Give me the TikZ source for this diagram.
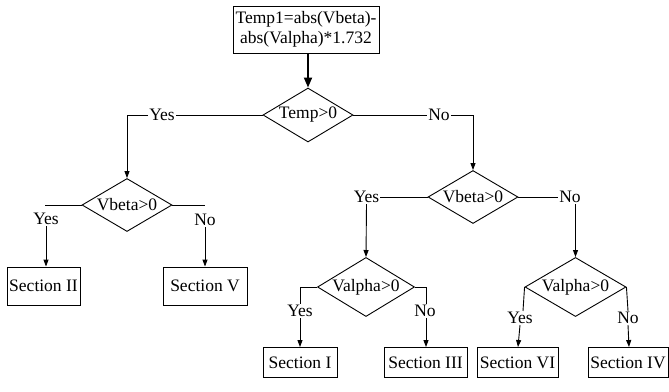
\documentclass[tikz,border=0pt]{standalone}
\usepackage{fontspec}
\setmainfont{Liberation Serif}
\usetikzlibrary{shapes.geometric,arrows.meta}
\begin{document}
\begin{tikzpicture}[x=1pt,y=-1pt,
  every node/.style={font=\fontsize{17.5}{20}\selectfont},
  line/.style={draw, line width=0.9pt},
  arr/.style={line, -{Triangle[length=7pt,width=5pt]}},
  bigarr/.style={draw, line width=1.8pt, -{Triangle[length=10pt,width=8pt]}},
  boxnode/.style={draw, line width=0.9pt, rectangle, inner sep=0pt, align=center},
  decision/.style={draw, line width=0.9pt, diamond, inner sep=-6pt},
  lbl/.style={inner sep=1pt}
]
\useasboundingbox (0,0) rectangle (669,391);
% top process
\node[boxnode, minimum width=146pt, minimum height=47pt] (top) at (306,29.5) {Temp1=abs(Vbeta)-\\abs(Valpha)*1.732};
% decisions
\node[decision, minimum width=90pt, minimum height=54pt] (t) at (308,115) {Temp>0};
\node[decision, minimum width=90pt, minimum height=53pt] (vb1) at (127,205) {Vbeta>0};
\node[decision, minimum width=90pt, minimum height=53pt] (vb2) at (473,197) {Vbeta>0};
\node[decision, minimum width=97pt, minimum height=53pt] (va1) at (366,287) {Valpha>0};
\node[decision, minimum width=101pt, minimum height=53pt] (va2) at (575.5,287) {Valpha>0};
% sections
\node[boxnode, minimum width=73pt, minimum height=38pt] (s2) at (43.5,286) {Section II};
\node[boxnode, minimum width=84pt, minimum height=38pt] (s5) at (205,286) {Section V};
\node[boxnode, minimum width=74pt, minimum height=30pt] (s1) at (300,362.5) {Section I};
\node[boxnode, minimum width=83pt, minimum height=30pt] (s3) at (425.5,362.5) {Section III};
\node[boxnode, minimum width=81pt, minimum height=30pt] (s6) at (517.5,362.5) {Section VI};
\node[boxnode, minimum width=80pt, minimum height=30pt] (s4) at (628,362.5) {Section IV};
% labels
\node[lbl] (yes1) at (162,115) {Yes};
\node[lbl] (no1) at (439,115) {No};
\node[lbl] (yes2) at (46,219) {Yes};
\node[lbl] (no2) at (205,220) {No};
\node[lbl] (yes3) at (366.5,197) {Yes};
\node[lbl] (no3) at (570,197) {No};
\node[lbl] (yes4) at (300,311) {Yes};
\node[lbl] (no4) at (425,311) {No};
\node[lbl] (yes5) at (520,318) {Yes};
\node[lbl] (no5) at (628,318) {No};
% corner coordinates
\coordinate (c1) at (127,115);
\coordinate (c1b) at (473,115);
\coordinate (c2) at (45,205);
\coordinate (c3) at (205,205);
\coordinate (c4) at (300,287);
\coordinate (c5) at (426,287);
% connectors
\draw[bigarr] (top.south -| t.north) -- (t.north);
\draw[line] (t.west) -- (yes1.east);
\draw[arr] (yes1.west) -- (c1) -- (vb1.north);
\draw[line] (t.east) -- (no1.west);
\draw[arr] (no1.east) -- (c1b) -- (vb2.north);
\draw[line] (vb1.west) -- (c2);
\draw[line] (vb1.east) -- (c3);
\draw[arr] (yes2.south) -- (s2.north -| yes2.south);
\draw[arr] (no2.south) -- (s5.north);
\draw[line] (vb2.west) -- (yes3.east);
\draw[line] (vb2.east) -- (no3.west);
\draw[arr] (yes3.south) -- (va1.north);
\draw[arr] (no3.south -| va2.north) -- (va2.north);
\draw[line] (va1.west) -- (c4) -- (yes4.north);
\draw[line] (va1.east) -- (c5) -- (no4.north -| c5);
\draw[arr] (yes4.south) -- (s1.north);
\draw[arr] (no4.south -| c5) -- (s3.north -| c5);
\draw[line] (va2.west) -- (yes5.north -| 523,0);
\draw[line] (va2.east) -- (no5.north);
\draw[arr] (yes5.south) -- (s6.north -| 518,0);
\draw[arr] (no5.south) -- (s4.north -| 629,0);
\end{tikzpicture}
\end{document}
